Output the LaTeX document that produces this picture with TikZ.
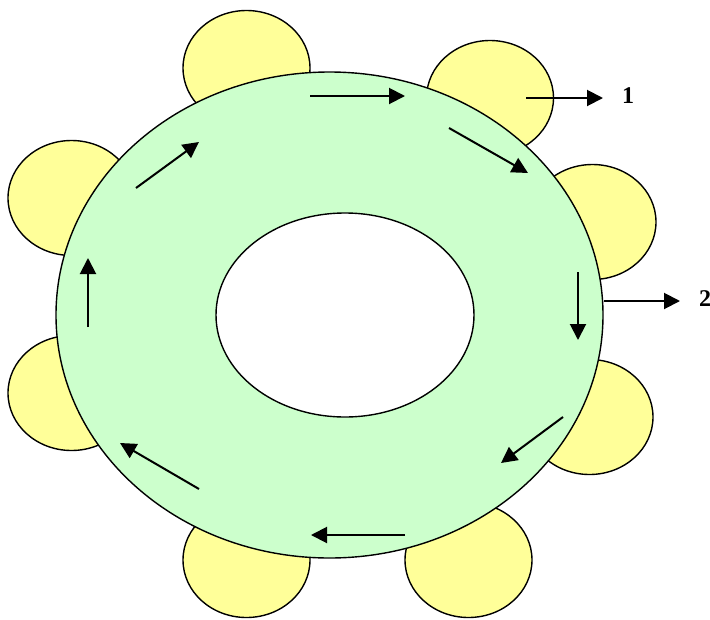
\documentclass[tikz,border=0pt]{standalone}
\usepackage{fontspec}
\setmainfont{Liberation Serif}
\usetikzlibrary{shapes.geometric,arrows.meta}
\definecolor{ringgreen}{HTML}{CCFFCC}
\definecolor{lobeyellow}{HTML}{FFFF99}
\begin{document}
\begin{tikzpicture}[x=1pt,y=-1pt,
  lobe/.style={ellipse,draw=black,line width=1.4pt,fill=lobeyellow,minimum width=127pt,minimum height=115pt,inner sep=0pt},
  flow/.style={line width=2pt,-{Triangle[length=16pt,width=16pt]}},
  lbl/.style={font=\fontsize{24}{24}\selectfont\bfseries,inner sep=0pt,anchor=west}]
\useasboundingbox (0,0) rectangle (710,619);
% yellow lobes
\node[lobe] (l1) at (246.5,68) {};
\node[lobe] (l2) at (490,98) {};
\node[lobe] (l3) at (592.5,222) {};
\node[lobe] (l4) at (589.5,417) {};
\node[lobe] (l5) at (468.5,560) {};
\node[lobe] (l6) at (246.5,560) {};
\node[lobe] (l7) at (71.5,393) {};
\node[lobe] (l8) at (71.5,198) {};
% ring
\node[ellipse,draw=black,line width=1.4pt,fill=ringgreen,minimum width=547pt,minimum height=486pt,inner sep=0pt] (ring) at (329.5,315) {};
\node[ellipse,draw=black,line width=1.4pt,fill=white,minimum width=258pt,minimum height=204pt,inner sep=0pt] (hole) at (345,315) {};
% circulation arrows
\coordinate (a1s) at (310,96);  \coordinate (a1e) at (405,96);
\coordinate (a2s) at (449,128); \coordinate (a2e) at (528,173);
\coordinate (a3s) at (578,272); \coordinate (a3e) at (578,340);
\coordinate (a4s) at (563,417); \coordinate (a4e) at (501,463);
\coordinate (a5s) at (405,535); \coordinate (a5e) at (311,535);
\coordinate (a6s) at (199,489); \coordinate (a6e) at (120,443);
\coordinate (a7s) at (88,327);  \coordinate (a7e) at (88,258);
\coordinate (a8s) at (136,188); \coordinate (a8e) at (199,142);
\draw[flow] (a1s) -- (a1e);
\draw[flow] (a2s) -- (a2e);
\draw[flow] (a3s) -- (a3e);
\draw[flow] (a4s) -- (a4e);
\draw[flow] (a5s) -- (a5e);
\draw[flow] (a6s) -- (a6e);
\draw[flow] (a7s) -- (a7e);
\draw[flow] (a8s) -- (a8e);
% outputs
\coordinate (o1s) at (526,98);
\node[lbl] (t1) at (622,96) {1};
\draw[flow] (o1s) -- (603,98) coordinate (o1e);
\node[lbl] (t2) at (699,299) {2};
\draw[flow] (ring.east) ++(0,-14) coordinate (o2s) -- (680,301) coordinate (o2e);
\end{tikzpicture}
\end{document}
